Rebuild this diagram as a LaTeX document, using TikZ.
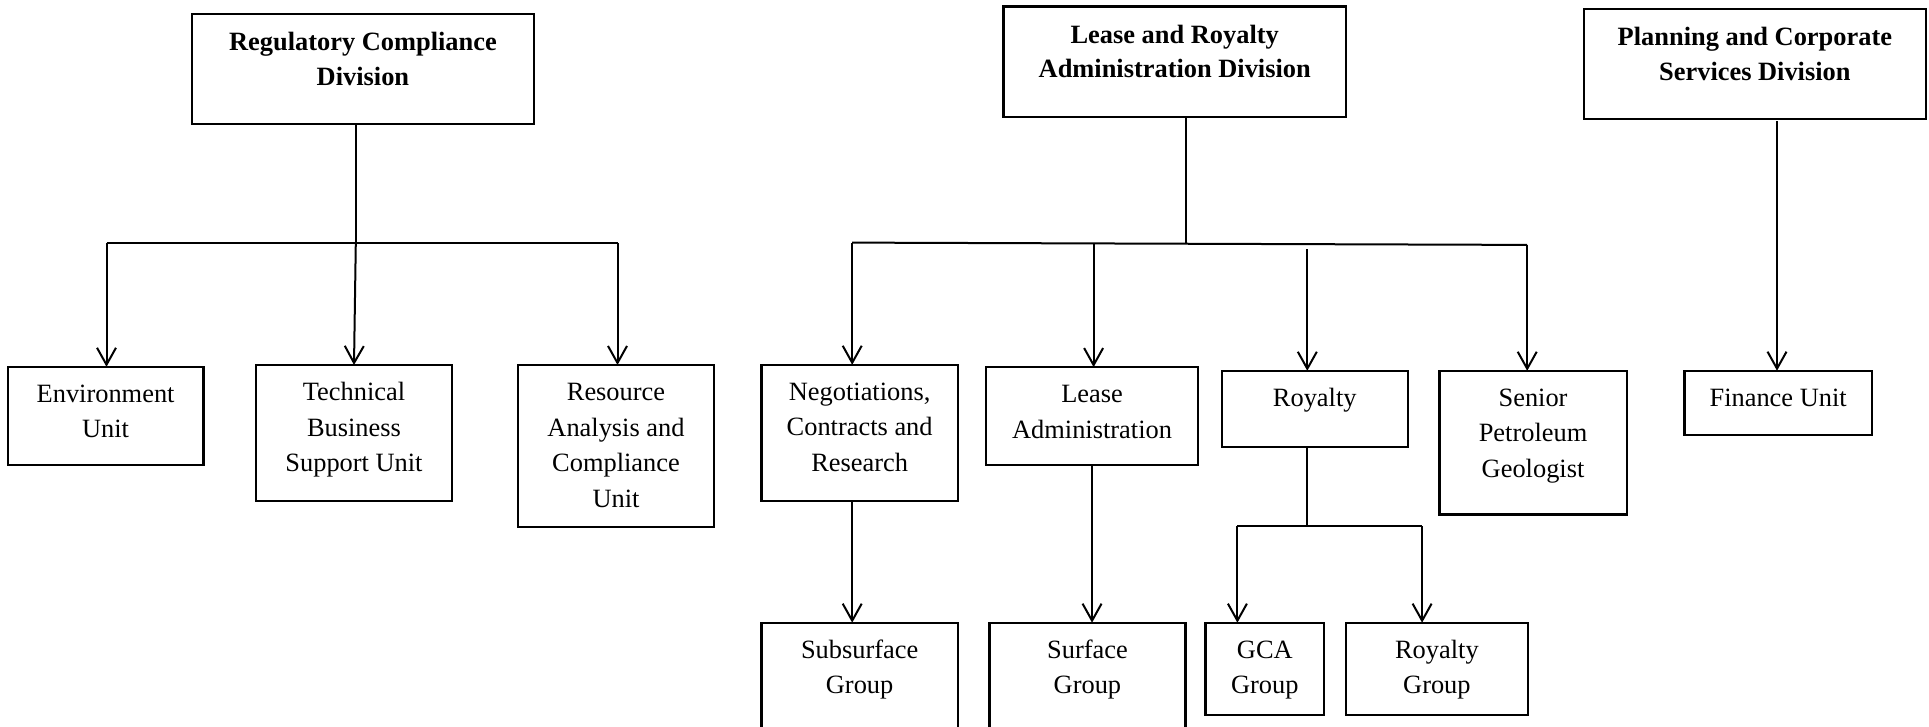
\documentclass[tikz,border=0pt]{standalone}
\usepackage{fontspec}
\setmainfont{Liberation Serif}
\usetikzlibrary{arrows.meta}
\tikzset{
  box/.style={draw=black, line width=2.2pt, inner sep=0pt, outer sep=0pt, anchor=north west,
    font=\fontsize{26.4pt}{35.5pt}\selectfont},
  boldbox/.style={box, font=\fontsize{26.4pt}{34.5pt}\selectfont\bfseries},
  link/.style={draw=black, line width=2pt},
  arr/.style={link, -{Straight Barb[length=17pt,width=19pt,line width=2pt]}}
}
% name, x1, y1, x2, y2, style, top padding, text
\newcommand\obox[8]{%
  \node[#6] (#1) at (#2,#3) {\parbox[c][\dimexpr#5pt-#3pt\relax][t]{\dimexpr#4pt-#2pt\relax}{\centering\vspace*{#7pt}\strut #8\par}};}
\begin{document}
\begin{tikzpicture}[x=1pt,y=-1pt]
\clip (0,0) rectangle (1929,726);
\fill[white] (0,0) rectangle (1929,726);
% divisions
\obox{rc}{191.9}{14.3}{534.0}{124.3}{boldbox}{12.5}{Regulatory Compliance\\Division}
\obox{lr}{1003.5}{6.5}{1346}{116.7}{boldbox}{12.5}{Lease and Royalty\\Administration Division}
\obox{pc}{1583.7}{9}{1926}{118.7}{boldbox}{12.5}{Planning and Corporate\\Services Division}
% units
\obox{env}{7.8}{366.8}{203.4}{465}{box}{10.8}{Environment\\Unit}
\obox{tech}{255.7}{365}{452.3}{501}{box}{10.8}{Technical\\Business\\Support Unit}
\obox{res}{518}{365}{714}{526.8}{box}{10.8}{Resource\\Analysis and\\Compliance\\Unit}
\obox{neg}{761.4}{364.8}{957.9}{500.9}{box}{10.8}{Negotiations,\\Contracts and\\Research}
\obox{la}{985.9}{367.1}{1198.2}{464.8}{box}{10.8}{Lease\\Administration}
\obox{roy}{1221.6}{370.8}{1407.9}{446.8}{box}{10.8}{Royalty}
\obox{sen}{1439.5}{370.8}{1626.6}{514.4}{box}{10.8}{Senior\\Petroleum\\Geologist}
\obox{fin}{1684.5}{370.7}{1871.7}{435}{box}{10.8}{Finance Unit}
% groups
\obox{sub}{761.4}{622.7}{957.9}{760}{box}{10.8}{Subsurface\\Group}
\obox{surf}{989.5}{622.7}{1185.4}{760}{box}{10.8}{Surface\\Group}
\obox{gca}{1205.5}{622.7}{1324.2}{715}{box}{10.8}{GCA\\Group}
\obox{rg}{1345.6}{622.7}{1528.2}{715}{box}{10.8}{Royalty\\Group}
% junction coordinates
\coordinate (j1) at (355.8,242.9);
\coordinate (hL1) at (106.5,242.9);
\coordinate (hR1) at (617.5,242.9);
\coordinate (hL2) at (852.2,242.6);
\coordinate (hR2) at (1527.2,244.9);
\coordinate (j2) at (1185.9,243.7);
\coordinate (hLA) at (1093.6,243.5);
\coordinate (rs) at (1307.3,249);
\coordinate (j3) at (1307.3,526.4);
\coordinate (g1) at (1237.4,526.4);
\coordinate (g2) at (1422.1,526.4);
\coordinate (pcs) at (1777,121);
% left division
\draw[link] (rc.south -| j1) -- (j1);
\draw[link] (hL1) -- (hR1);
\draw[arr] (hL1) -- (env.north -| hL1);
\draw[arr] (j1) -- (tech.north);
\draw[arr] (hR1) -- (res.north -| hR1);
% middle division
\draw[link] (lr.south -| j2) -- (j2);
\draw[link] (hL2) -- (hR2);
\draw[arr] (hL2) -- (neg.north -| hL2);
\draw[arr] (hLA) -- (la.north -| hLA);
\draw[arr] (rs) -- (roy.north -| rs);
\draw[arr] (hR2) -- (sen.north -| hR2);
\draw[arr] (neg.south -| hL2) -- (sub.north -| hL2);
\draw[arr] (la.south) -- (surf.north -| la.south);
\draw[link] (roy.south -| rs) -- (j3);
\draw[link] (g1) -- (g2);
\draw[arr] (g1) -- (gca.north -| g1);
\draw[arr] (g2) -- (rg.north -| g2);
% right division
\draw[arr] (pcs) -- (fin.north -| pcs);
\end{tikzpicture}
\end{document}
